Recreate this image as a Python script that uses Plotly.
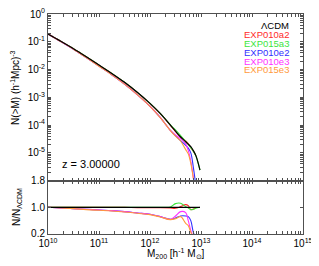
import plotly.graph_objects as go

# ---- data ----
log_mass = [10.0, 10.25, 10.5, 10.75, 11.0, 11.25, 11.5, 11.75, 12.0, 12.2, 12.4,
            12.5, 12.6, 12.7, 12.75, 12.8, 12.85, 12.9, 12.98]
lcdm_log_n = [-0.72, -0.98, -1.25, -1.54, -1.84, -2.14, -2.46, -2.82, -3.22, -3.58, -4.00,
              -4.22, -4.43, -4.60, -4.69, -4.78, -4.92, -5.10, -5.62]

ratio_exp010a2 = [1.0, 1.0, 1.0, 1.0, 1.0, 1.0, 1.0, 0.99, 0.99, 0.99, 0.98,
                  0.97, 1.02, 1.08, 1.05, 0.93, 0.95, 0.98, None]
ratio_exp015a3 = [1.0, 1.0, 1.0, 1.0, 1.0, 1.0, 1.0, 1.0, 1.0, 1.0, 1.01,
                  1.11, 1.12, 1.02, 0.98, 0.93, 0.94, 0.97, 1.0]
ratio_exp010e2 = [1.0, 0.98, 0.96, 0.94, 0.92, 0.9, 0.87, 0.83, 0.79, 0.72, 0.64,
                  0.68, 0.74, 0.74, 0.72, 0.6, 0.25, 0.08, None]
ratio_exp010e3 = [1.0, 0.98, 0.96, 0.94, 0.92, 0.9, 0.87, 0.83, 0.79, 0.72, 0.64,
                  0.74, 0.87, 0.84, 0.6, 0.3, 0.1, None, None]
ratio_exp015e3 = [1.0, 0.98, 0.96, 0.93, 0.91, 0.89, 0.86, 0.82, 0.78, 0.71, 0.63,
                  0.66, 0.72, 0.52, 0.45, 0.25, 0.1, None, None]

model_names = ["EXP010a2", "EXP015a3", "EXP010e2", "EXP010e3", "EXP015e3"]
model_colors = ["#ff2a2a", "#3ce63c", "#3030ff", "#ff30ff", "#ff9a3c"]
model_ratios = [ratio_exp010a2, ratio_exp015a3, ratio_exp010e2, ratio_exp010e3, ratio_exp015e3]

x_major = [1e10, 1e11, 1e12, 1e13, 1e14, 1e15]
x_major_text = ["10<sup>10</sup>", "10<sup>11</sup>", "10<sup>12</sup>",
                "10<sup>13</sup>", "10<sup>14</sup>", "10<sup>15</sup>"]
y_major = [1e0, 1e-1, 1e-2, 1e-3, 1e-4, 1e-5, 1e-6]
y_major_text = ["10<sup>0</sup>", "10<sup>-1</sup>", "10<sup>-2</sup>", "10<sup>-3</sup>",
                "10<sup>-4</sup>", "10<sup>-5</sup>", ""]
ratio_ticks = [0.2, 1.0, 1.8]
ratio_text = ["0.2", "1.0", "1.8"]

# ---- derived ----
mass = [10 ** m for m in log_mass]
lcdm_n = [10 ** v for v in lcdm_log_n]

def minor_vals(lo, hi):
    vals, texts = [], []
    for d in range(lo, hi):
        for k in range(2, 10):
            vals.append(k * 10.0 ** d)
            texts.append("")
    return vals, texts

xm, xmt = minor_vals(10, 15)
ym, ymt = minor_vals(-6, 0)
x_tickvals = x_major + xm
x_ticktext = x_major_text + xmt
y_tickvals = y_major + ym
y_ticktext = y_major_text + ymt

FONT = "Liberation Sans, Arial, sans-serif"
AX = "#505050"

fig = go.Figure()

for name, col, rat in zip(model_names, model_colors, model_ratios):
    xs = [m for m, r in zip(mass, rat) if r is not None]
    ys = [n * r for n, r in zip(lcdm_n, rat) if r is not None]
    rs = [r for r in rat if r is not None]
    fig.add_trace(go.Scatter(x=xs, y=ys, mode="lines", name=name, line=dict(color=col, width=1.1),
                             line_shape="spline", xaxis="x", yaxis="y", showlegend=False))
    fig.add_trace(go.Scatter(x=xs, y=rs, mode="lines", name=name, line=dict(color=col, width=1.1),
                             line_shape="spline", xaxis="x2", yaxis="y2", showlegend=False))

fig.add_trace(go.Scatter(x=mass, y=lcdm_n, mode="lines", name="ΛCDM", line=dict(color="black", width=1.2),
                         line_shape="spline", xaxis="x", yaxis="y", showlegend=False))
fig.add_trace(go.Scatter(x=mass, y=[1.0] * len(mass), mode="lines", name="ΛCDM",
                         line=dict(color="black", width=1.2), xaxis="x2", yaxis="y2", showlegend=False))

split = 0.2427
common_axis = dict(showline=True, linecolor=AX, linewidth=1, mirror="ticks", ticks="inside",
                   ticklen=3, tickcolor=AX, showgrid=False, zeroline=False, automargin=False,
                   ticklabeloverflow="allow",
                   tickfont=dict(family=FONT, size=10, color="black"))

# the page body adds an 8 px offset, so the figure is 8 px smaller on the left/top
fig.update_layout(
    template="none",
    width=311, height=258,
    margin=dict(l=40, r=16, t=6, b=32, autoexpand=False),
    paper_bgcolor="white", plot_bgcolor="white",
    font=dict(family=FONT, size=10, color="black"),
    xaxis=dict(type="log", range=[10, 15], domain=[0, 1], anchor="y",
               tickmode="array", tickvals=x_tickvals, ticktext=x_ticktext,
               showticklabels=False, **common_axis),
    yaxis=dict(type="log", range=[-6, 0], domain=[split, 1], anchor="x",
               tickmode="array", tickvals=y_tickvals, ticktext=y_ticktext, **common_axis),
    xaxis2=dict(type="log", range=[10, 15], domain=[0, 1], anchor="y2",
                tickmode="array", tickvals=x_tickvals, ticktext=x_ticktext, **common_axis),
    yaxis2=dict(range=[0.2, 1.8], domain=[0, split], anchor="x2",
                tickmode="array", tickvals=ratio_ticks, ticktext=ratio_text, **common_axis),
)

annots = [
    dict(text="N(>M) (h<sup>-1</sup>Mpc)<sup>-3</sup>", x=(15 - 48) / 255, y=0.664, textangle=-90),
    dict(text="N/N<sub>ΛCDM</sub>", x=(17 - 48) / 255, y=0.123, textangle=-90),
    dict(text="M<sub>200</sub> [h<sup>-1</sup> M<sub>⊙</sub>]", x=0.5, y=-0.09),
]
for a in annots:
    fig.add_annotation(xref="paper", yref="paper", showarrow=False,
                       xanchor="center", yanchor="middle",
                       font=dict(family=FONT, size=10, color="black"), **a)

fig.add_annotation(text="z = 3.00000", xref="paper", yref="paper", x=0.047, y=0.318,
                   xanchor="left", yanchor="middle", showarrow=False,
                   font=dict(family=FONT, size=11, color="black"))

legend_names = ["ΛCDM"] + model_names
legend_colors = ["black"] + model_colors
legend_y = [25.3, 34, 43, 52, 61, 70]
for nm, col, yy in zip(legend_names, legend_colors, legend_y):
    fig.add_annotation(text=nm, xref="paper", yref="paper", x=(290.7 - 48) / 255,
                       y=(234 - yy) / 220, xanchor="right", yanchor="middle", showarrow=False,
                       font=dict(family=FONT, size=9.5, color=col))

fig.write_html("out.html")
